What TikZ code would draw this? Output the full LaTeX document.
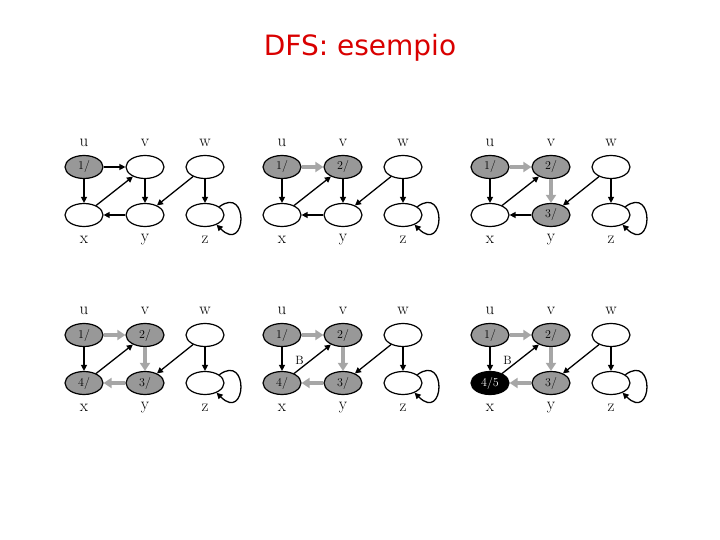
\documentclass[tikz,border=0pt]{standalone}
\usepackage{fontspec}
\newfontfamily\titlefont{DejaVu Sans}
\usetikzlibrary{shapes.geometric,arrows.meta}
\tikzset{
  vtx/.style={ellipse,draw,line width=1.2pt,minimum width=38pt,minimum height=23pt,inner sep=0pt,fill=white,font=\fontsize{12}{12}\selectfont},
  gv/.style={fill=gray!85!black!70},
  bv/.style={fill=black,text=white},
  wv/.style={},
  lab/.style={font=\fontsize{17}{17}\selectfont},
  e/.style={-{Triangle[length=6pt,width=6pt]},line width=1.3pt},
  te/.style={-{Triangle[length=8pt,width=10pt]},line width=4pt,draw=gray!70,color=gray!70},
}
\newcommand\graphG[4]{%
  \begin{scope}[shift={(#2,#3)}]
  \ifnum#4>0 \node[vtx,gv] (u#1) at (0,0) {1/};\else\node[vtx] (u#1) at (0,0) {};\fi
  \ifnum#4>1 \node[vtx,gv] (v#1) at (61,0) {2/};\else\node[vtx] (v#1) at (61,0) {};\fi
  \node[vtx] (w#1) at (121,0) {};
  \ifnum#4>5 \node[vtx,bv] (x#1) at (0,48) {4/5};\else
   \ifnum#4>3 \node[vtx,gv] (x#1) at (0,48) {4/};\else\node[vtx] (x#1) at (0,48) {};\fi\fi
  \ifnum#4>2 \node[vtx,gv] (y#1) at (61,48) {3/};\else\node[vtx] (y#1) at (61,48) {};\fi
  \node[vtx] (z#1) at (121,48) {};
  \node[lab] at (0,-24) {u}; \node[lab] at (61,-24) {v}; \node[lab] at (121,-24) {w};
  \node[lab] at (0,73) {x}; \node[lab] at (61,73) {y}; \node[lab] at (121,73) {z};
  \draw[e] (u#1) -- (x#1);
  \draw[e] (w#1) -- (y#1);
  \draw[e] (w#1) -- (z#1);
  \ifnum#4>4 \draw[e] (x#1) -- (v#1) node[pos=0.45,left=3pt,font=\fontsize{12}{12}\selectfont] {B};
  \else \draw[e] (x#1) -- (v#1);\fi
  \ifnum#4>1 \draw[te] (u#1) -- (v#1); \else \draw[e] (u#1) -- (v#1); \fi
  \ifnum#4>2 \draw[te] (v#1) -- (y#1); \else \draw[e] (v#1) -- (y#1); \fi
  \ifnum#4>3 \draw[te] (y#1) -- (x#1); \else \draw[e] (y#1) -- (x#1); \fi
  \draw[e] (z#1.30) .. controls +(30,-22) and +(30,30) .. (z#1.-40);
  \end{scope}}
\begin{document}
\begin{tikzpicture}[x=1pt,y=-1pt]
\useasboundingbox (0,0) rectangle (720,540);
\node[text=red!85!black,font=\titlefont\fontsize{28}{28}\selectfont] (t) at (360,48) {DFS: esempio};
\graphG{a}{84}{167}{1}
\graphG{b}{282}{167}{2}
\graphG{c}{490}{167}{3}
\graphG{d}{84}{335}{4}
\graphG{e}{282}{335}{5}
\graphG{f}{490}{335}{6}
\end{tikzpicture}
\end{document}
